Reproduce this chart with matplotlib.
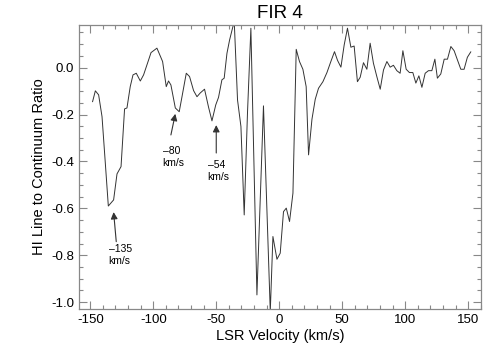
import numpy as np
import matplotlib
matplotlib.use('Agg')
import matplotlib.pyplot as plt
from matplotlib.ticker import MultipleLocator

plt.rcParams['font.family'] = ['Liberation Sans', 'DejaVu Sans']

# LSR velocity (km/s) and HI line to continuum ratio
velocity = [-148.2, -146.0, -143.4, -140.7, -138.1, -135.7, -131.5, -128.8, -125.6, -122.8,
            -120.9, -118.3, -116.1, -113.5, -110.3, -107.7, -103.7, -101.8, -97.1, -92.6,
            -89.7, -87.9, -86.0, -82.5, -79.4, -77.2, -73.8, -71.2, -68.0, -65.3,
            -62.7, -59.3, -56.1, -53.4, -50.4, -48.2, -45.5, -43.7, -41.5, -39.4,
            -37.1, -35.7, -33.1, -30.4, -27.8, -25.2, -22.5, -17.7, -12.5, -7.1,
            -5.0, -1.8, 0.8, 3.4, 5.6, 8.2, 10.9, 13.5, 16.1, 18.8,
            21.4, 23.3, 26.0, 28.6, 31.2, 34.7, 37.9, 41.0, 43.9, 46.3,
            49.0, 51.6, 54.2, 56.9, 59.5, 62.1, 64.3, 66.9, 69.6, 72.2,
            74.8, 77.5, 80.2, 82.8, 85.5, 88.1, 90.7, 93.4, 96.0, 98.2,
            100.8, 103.4, 106.1, 108.5, 110.9, 113.3, 115.9, 118.5, 121.2, 123.6,
            125.6, 128.3, 131.0, 133.6, 136.3, 138.9, 141.5, 144.2, 146.8, 149.4,
            152.1]
ratio = [-0.145, -0.099, -0.116, -0.209, -0.406, -0.590, -0.564, -0.453, -0.422, -0.176,
         -0.172, -0.081, -0.031, -0.024, -0.057, -0.031, 0.033, 0.064, 0.083, 0.026,
         -0.081, -0.057, -0.074, -0.172, -0.188, -0.124, -0.024, -0.038, -0.098, -0.124,
         -0.108, -0.092, -0.169, -0.227, -0.159, -0.127, -0.052, -0.045, 0.061, 0.118,
         0.168, 0.195, -0.138, -0.251, -0.628, -0.194, 0.168, -0.969, -0.163, -1.04,
         -0.720, -0.817, -0.791, -0.614, -0.599, -0.656, -0.535, 0.078, 0.026, -0.007,
         -0.081, -0.372, -0.220, -0.135, -0.088, -0.060, -0.021, 0.026, 0.068, 0.031,
         0.002, 0.097, 0.168, 0.087, 0.092, -0.060, -0.041, 0.021, -0.007, 0.104,
         0.019, -0.038, -0.092, -0.010, 0.026, 0.002, 0.010, -0.013, -0.024, 0.072,
         -0.007, -0.021, -0.021, -0.066, -0.035, -0.084, -0.024, -0.013, -0.013, 0.036,
         -0.045, -0.027, 0.036, 0.036, 0.090, 0.072, 0.033, -0.007, -0.007, 0.044,
         0.067]

# annotations: label, arrow tip (v, ratio), arrow tail, text position
labels = ['\u2013135\nkm/s', '\u201380\nkm/s', '\u201354\nkm/s']
tips = [(-131.5, -0.616), (-82.5, -0.197), (-50.0, -0.245)]
tails = [(-129.4, -0.742), (-86.0, -0.287), (-50.0, -0.364)]
text_pos = [(-135.5, -0.752), (-92.6, -0.334), (-56.9, -0.393)]

fig = plt.figure(figsize=(5.04, 3.6), dpi=100)
ax = fig.add_axes([0.1567, 0.1417, 0.9538 - 0.1567, 0.9314 - 0.1417])

ax.plot(velocity, ratio, color='#333333', lw=0.7)

for lab, tip, tail, tp in zip(labels, tips, tails, text_pos):
    ax.annotate('', xy=tip, xytext=tail,
                arrowprops=dict(arrowstyle='-|>', color='#333333', lw=0.8,
                                mutation_scale=10, shrinkA=0, shrinkB=0))
    ax.text(tp[0], tp[1], lab, fontsize=7.5, ha='left', va='top', linespacing=1.3)

ax.set_xlim(-159, 160)
ax.set_ylim(-1.029, 0.183)

ax.xaxis.set_major_locator(MultipleLocator(50))
ax.xaxis.set_minor_locator(MultipleLocator(10))
ax.yaxis.set_major_locator(MultipleLocator(0.2))
ax.yaxis.set_minor_locator(MultipleLocator(0.05))
ax.yaxis.set_major_formatter(plt.FuncFormatter(lambda v, p: '%.1f' % v))
ax.xaxis.set_major_formatter(plt.FuncFormatter(lambda v, p: '%d' % v))

ax.tick_params(which='both', direction='in', top=True, right=True,
               color='#888888', labelsize=9.5, width=0.8)
ax.tick_params(which='major', length=6)
ax.tick_params(which='minor', length=3)
for s in ax.spines.values():
    s.set_color('#888888')
    s.set_linewidth(0.9)

ax.set_xlabel('LSR Velocity (km/s)', fontsize=10.5, labelpad=2)
ax.set_ylabel('HI Line to Continuum Ratio', fontsize=10.5, labelpad=4)
ax.set_title('FIR 4', fontsize=13.5, pad=5)

fig.savefig('out.png', dpi=100)
